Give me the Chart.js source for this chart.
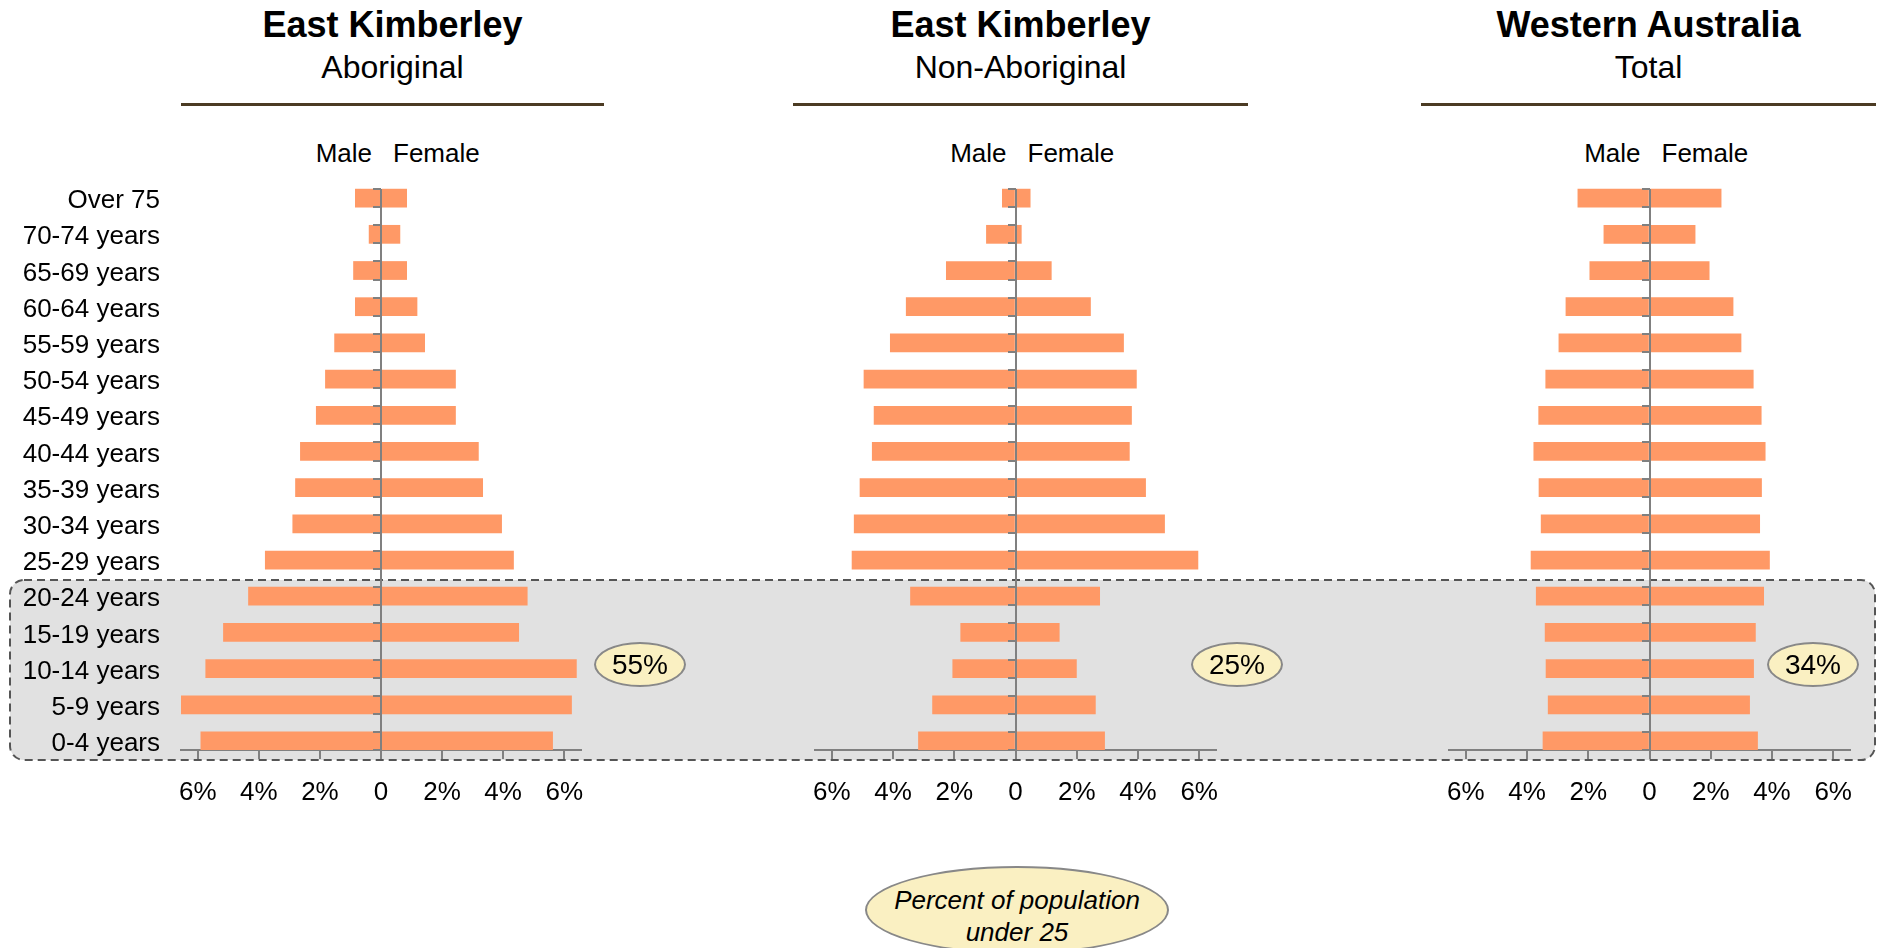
<!DOCTYPE html>
<html>
<head>
<meta charset="utf-8">
<script src="https://cdn.jsdelivr.net/npm/chart.js@4.4.1/dist/chart.umd.min.js"></script>
<style>
  body { margin: 0; background: #fff; font-family: 'Liberation Sans', Arial, sans-serif; }
  #page { position: relative; width: 1879px; height: 948px; overflow: hidden; }
  .abs { position: absolute; }
  .title { font-weight: bold; font-size: 36px; text-align: center; width: 500px; color: #000; }
  .subtitle { font-size: 32px; text-align: center; width: 500px; color: #000; }
  .rule { height: 3px; background: #4b3b23; }
  .sex { font-size: 26px; color: #000; }
  .bubble { background: #faf0c2; border: 2px solid #888; border-radius: 50%; box-sizing: border-box;
            display: flex; align-items: center; justify-content: center; font-size: 28px; color: #000; }
  canvas { position: absolute; }
</style>
</head>
<body>
<div id="page">
  <svg class="abs" style="left:0;top:0" width="1879" height="948">
    <rect x="10" y="580" width="1865" height="180" rx="14" ry="14" fill="#e1e1e1"
          stroke="#555" stroke-width="2" stroke-dasharray="8 5"/>
  </svg>

  <div id="overlay"></div>

  <canvas id="chartEKA" style="left:0px;top:166px" width="610" height="664"></canvas>
  <canvas id="chartEKN" style="left:795px;top:166px" width="450" height="664"></canvas>
  <canvas id="chartWA" style="left:1429px;top:166px" width="450" height="664"></canvas>

  <div class="abs bubble" style="left:594px;top:642px;width:92px;height:45px">55%</div>
  <div class="abs bubble" style="left:1191px;top:642px;width:92px;height:45px">25%</div>
  <div class="abs bubble" style="left:1767px;top:642px;width:92px;height:45px">34%</div>
  <div class="abs bubble" style="left:865px;top:866px;width:304px;height:88px;font-size:26px;font-style:italic;line-height:32px;text-align:center;align-items:flex-start;padding-top:16px">Percent of population<br>under 25</div>
</div>

<script>
// Age groups, oldest at the top
const ageGroups = ['Over 75', '70-74 years', '65-69 years', '60-64 years', '55-59 years',
  '50-54 years', '45-49 years', '40-44 years', '35-39 years', '30-34 years', '25-29 years',
  '20-24 years', '15-19 years', '10-14 years', '5-9 years', '0-4 years'];

// Share of population (%)
const ekAborigMale = [0.84, 0.39, 0.90, 0.84, 1.52, 1.82, 2.12, 2.64, 2.80, 2.89, 3.79, 4.34, 5.16, 5.74, 6.59, 5.90];
const ekAborigFemale = [0.84, 0.62, 0.84, 1.18, 1.43, 2.44, 2.44, 3.19, 3.33, 3.95, 4.34, 4.79, 4.51, 6.40, 6.24, 5.62];
const ekNonAborigMale = [0.43, 0.95, 2.26, 3.57, 4.09, 4.95, 4.62, 4.68, 5.08, 5.27, 5.34, 3.43, 1.79, 2.05, 2.71, 3.17];
const ekNonAborigFemale = [0.48, 0.19, 1.17, 2.45, 3.53, 3.95, 3.79, 3.72, 4.25, 4.87, 5.96, 2.75, 1.43, 1.99, 2.61, 2.91];
const waMale = [2.34, 1.49, 1.95, 2.73, 2.96, 3.39, 3.62, 3.78, 3.61, 3.54, 3.87, 3.70, 3.41, 3.38, 3.31, 3.48];
const waFemale = [2.34, 1.49, 1.95, 2.73, 2.99, 3.39, 3.65, 3.78, 3.66, 3.60, 3.92, 3.73, 3.46, 3.40, 3.27, 3.53];

const axisTicks = [-6, -4, -2, 0, 2, 4, 6];

const panels = [
  { id: 'chartEKA', title: 'East Kimberley', sub: 'Aboriginal', male: ekAborigMale, female: ekAborigFemale, labels: true, rule: [181, 604] },
  { id: 'chartEKN', title: 'East Kimberley', sub: 'Non-Aboriginal', male: ekNonAborigMale, female: ekNonAborigFemale, labels: false, rule: [793, 1248] },
  { id: 'chartWA', title: 'Western Australia', sub: 'Total', male: waMale, female: waFemale, labels: false, rule: [1421, 1876] }
];

Chart.defaults.font.family = "'Liberation Sans', Arial, sans-serif";
Chart.defaults.color = '#000';

const AXIS_GREY = '#808080';
const BAR_COLOR = '#ff9966';

// zero line with small ticks at each bar edge, drawn over the bars
const zeroAxisPlugin = {
  id: 'zeroAxis',
  afterDatasetsDraw(chart) {
    const { ctx, chartArea } = chart;
    const x = chart.scales.x, y = chart.scales.y;
    const x0 = Math.round(x.getPixelForValue(0));
    const top = y.getPixelForValue(0);
    const half = (y.getPixelForValue(1) - y.getPixelForValue(0)) / 2;
    ctx.save();
    ctx.strokeStyle = AXIS_GREY;
    ctx.lineWidth = 2;
    ctx.beginPath();
    ctx.moveTo(x0, top);
    ctx.lineTo(x0, chartArea.bottom);
    for (let p = top; p <= chartArea.bottom + 1; p += half) {
      ctx.moveTo(x0 - 8, Math.round(p));
      ctx.lineTo(x0, Math.round(p));
    }
    ctx.stroke();
    ctx.restore();
  }
};

function makePyramid(p) {
  const el = document.getElementById(p.id);
  return new Chart(el, {
    type: 'bar',
    data: {
      labels: ageGroups,
      datasets: [
        // empty stack keeps the bars in the lower half of each row
        { label: 'pad', data: ageGroups.map(() => 0), stack: 'pad', backgroundColor: 'transparent' },
        { label: 'Male', data: p.male.map(v => -v), stack: 'pop', backgroundColor: BAR_COLOR },
        { label: 'Female', data: p.female, stack: 'pop', backgroundColor: BAR_COLOR }
      ]
    },
    options: {
      indexAxis: 'y',
      responsive: false,
      animation: false,
      events: [],
      categoryPercentage: 1.0,
      barPercentage: 1.0,
      layout: { padding: { top: 5, right: 29, bottom: 0, left: p.labels ? 0 : 20 } },
      plugins: { legend: { display: false }, tooltip: { enabled: false } },
      scales: {
        x: {
          type: 'linear',
          min: -6.55,
          max: 6.55,
          afterBuildTicks: s => { s.ticks = axisTicks.map(v => ({ value: v })); },
          afterFit: s => { s.height = 80; s.paddingLeft = 0; s.paddingRight = 0; },
          ticks: {
            font: { size: 26 },
            padding: 18,
            maxRotation: 0,
            callback: v => v === 0 ? '0' : Math.abs(v) + '%'
          },
          grid: { drawOnChartArea: false, drawTicks: true, tickLength: 9, color: AXIS_GREY, lineWidth: 2 },
          border: { color: AXIS_GREY, width: 2 }
        },
        y: {
          display: p.labels,
          afterFit: s => {
            if (p.labels) s.width = 181;
            s.paddingTop = 0;
            s.paddingBottom = 0;
          },
          ticks: { font: { size: 26 }, padding: 21, autoSkip: false, labelOffset: 12 },
          grid: { display: false, drawTicks: false },
          border: { display: false }
        }
      }
    },
    plugins: [zeroAxisPlugin]
  });
}

// headings and Male / Female labels
const overlay = document.getElementById('overlay');
panels.forEach(p => {
  const centre = (p.rule[0] + p.rule[1]) / 2;
  overlay.insertAdjacentHTML('beforeend',
    `<div class="abs title" style="left:${centre - 250}px;top:4px">${p.title}</div>` +
    `<div class="abs subtitle" style="left:${centre - 250}px;top:49px">${p.sub}</div>` +
    `<div class="abs rule" style="left:${p.rule[0]}px;top:103px;width:${p.rule[1] - p.rule[0]}px"></div>`);
  const chart = makePyramid(p);
  const x0 = chart.scales.x.getPixelForValue(0) + chart.canvas.offsetLeft;
  overlay.insertAdjacentHTML('beforeend',
    `<div class="abs sex" style="right:${1879 - (x0 - 9)}px;top:138px">Male</div>` +
    `<div class="abs sex" style="left:${x0 + 12}px;top:138px">Female</div>`);
});
</script>
</body>
</html>
